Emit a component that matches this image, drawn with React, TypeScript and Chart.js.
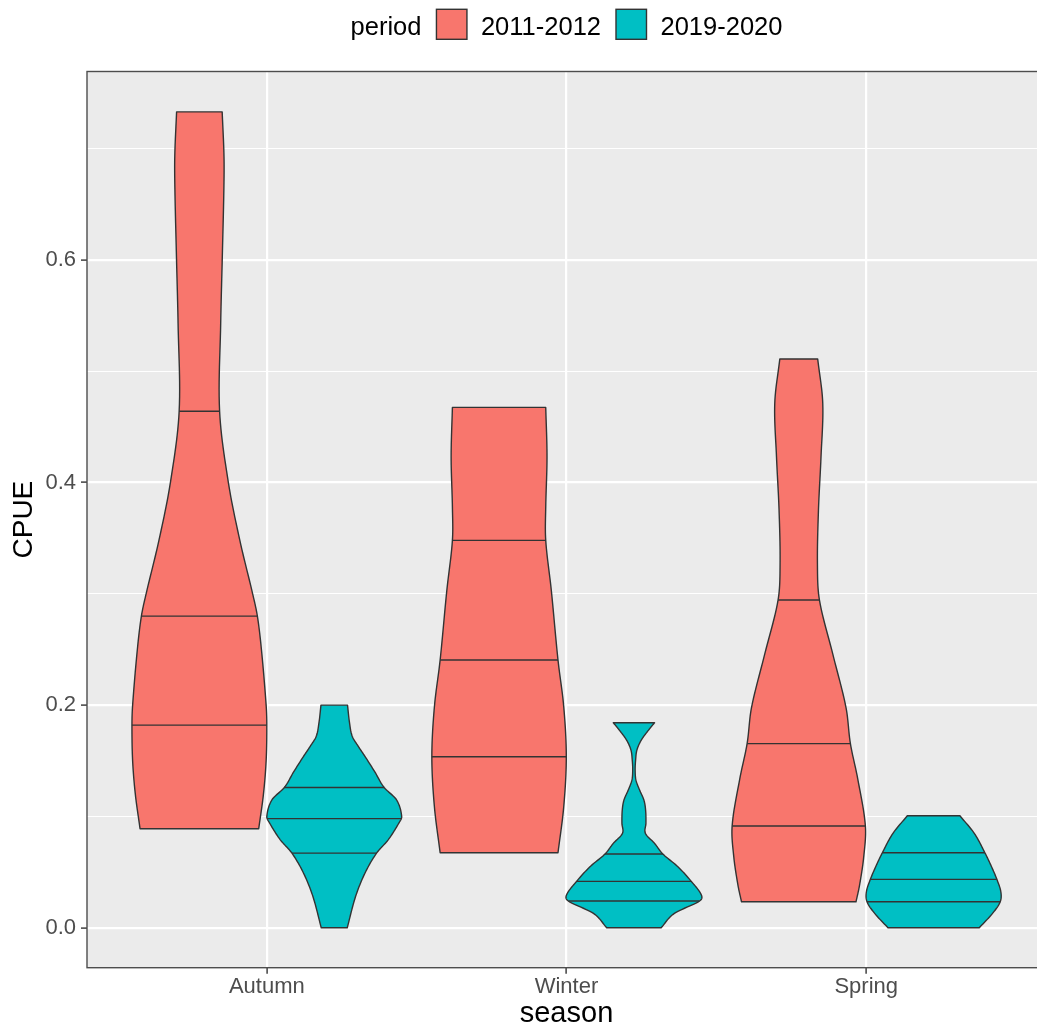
import React, { useEffect, useRef } from 'react';
import { Chart, registerables } from 'chart.js';

Chart.register(...registerables);

// ---------- data ----------
const categories = ['Autumn', 'Winter', 'Spring'];
const periods = ['2011-2012', '2019-2020'];
const periodColors = ['#F8766D', '#00BFC4'];
const yTickValues = [0, 0.1, 0.2, 0.3, 0.4, 0.5, 0.6, 0.7];

// density profiles: CPUE levels and relative violin width (1 = full width)
const autumn2011Cpue = [0.089, 0.12, 0.15, 0.182, 0.2, 0.25, 0.28, 0.3, 0.348, 0.4, 0.464, 0.543, 0.603, 0.663, 0.693, 0.733];
const autumn2011Width = [0.88, 0.95, 0.99, 1.0, 0.99, 0.92, 0.86, 0.79, 0.6, 0.43, 0.30, 0.316, 0.34, 0.363, 0.365, 0.338];
const autumn2011Quartiles = [0.182, 0.28, 0.464];

const autumn2019Cpue = [0, 0.028, 0.049, 0.067, 0.079, 0.094, 0.1, 0.115, 0.126, 0.14, 0.154, 0.163, 0.172, 0.184, 0.2];
const autumn2019Width = [0.193, 0.316, 0.455, 0.627, 0.8, 0.958, 1.0, 0.923, 0.74, 0.602, 0.455, 0.356, 0.267, 0.227, 0.197];
const autumn2019Quartiles = [0.067, 0.098, 0.126];

const winter2011Cpue = [0.0674, 0.1087, 0.1536, 0.1986, 0.2405, 0.303, 0.348, 0.378, 0.423, 0.4675];
const winter2011Width = [0.874, 0.959, 0.997, 0.959, 0.874, 0.775, 0.692, 0.692, 0.711, 0.692];
const winter2011Quartiles = [0.1536, 0.2405, 0.348];

const winter2019Cpue = [0, 0.0129, 0.024, 0.0294, 0.0417, 0.0548, 0.0662, 0.0758, 0.0848, 0.0938, 0.1058, 0.1147, 0.1237, 0.1327, 0.1417, 0.1507, 0.1596, 0.1686, 0.1776, 0.1842];
const winter2019Width = [0.404, 0.6, 0.973, 1.0, 0.85, 0.652, 0.43, 0.306, 0.17, 0.178, 0.173, 0.148, 0.084, 0.03, 0.018, 0.025, 0.044, 0.109, 0.217, 0.306];
const winter2019Quartiles = [0.024, 0.0417, 0.0662];

const spring2011Cpue = [0.0233, 0.0377, 0.0634, 0.0914, 0.134, 0.1654, 0.198, 0.246, 0.2944, 0.3265, 0.375, 0.423, 0.471, 0.511];
const spring2011Width = [0.849, 0.9, 0.963, 0.988, 0.874, 0.766, 0.7, 0.504, 0.307, 0.277, 0.292, 0.33, 0.356, 0.281];
const spring2011Quartiles = [0.0914, 0.1654, 0.2944];

const spring2019Cpue = [0, 0.0129, 0.0234, 0.0323, 0.0435, 0.0548, 0.0674, 0.0848, 0.1006];
const spring2019Width = [0.677, 0.874, 0.988, 0.997, 0.938, 0.859, 0.76, 0.603, 0.39];
const spring2019Quartiles = [0.0234, 0.0435, 0.0674];

const violins = [
  { cat: 0, period: 0, cpue: autumn2011Cpue, width: autumn2011Width, q: autumn2011Quartiles },
  { cat: 0, period: 1, cpue: autumn2019Cpue, width: autumn2019Width, q: autumn2019Quartiles },
  { cat: 1, period: 0, cpue: winter2011Cpue, width: winter2011Width, q: winter2011Quartiles },
  { cat: 1, period: 1, cpue: winter2019Cpue, width: winter2019Width, q: winter2019Quartiles },
  { cat: 2, period: 0, cpue: spring2011Cpue, width: spring2011Width, q: spring2011Quartiles },
  { cat: 2, period: 1, cpue: spring2019Cpue, width: spring2019Width, q: spring2019Quartiles },
];

// ---------- layout constants ----------
const CANVAS_W = 1060;
const CANVAS_H = 1026;
const PANEL_LEFT = 87;
const PANEL_TOP = 71.5;
const PANEL_BOTTOM = 967.7;
const PANEL_RIGHT = 1046;
const FONT = '"Liberation Sans", Arial, Helvetica, sans-serif';
const OUTLINE = '#333333';
const DODGE = 0.225; // half of dodge width
const HALF_W = 0.225; // max half width of a violin in x units

function widthAt(ys: number[], ws: number[], v: number): number {
  const n = ys.length;
  if (v <= ys[0]) return ws[0];
  if (v >= ys[n - 1]) return ws[n - 1];
  let i = 0;
  while (i < n - 2 && v > ys[i + 1]) i++;
  const slope = (k: number) => {
    if (k === 0) return (ws[1] - ws[0]) / (ys[1] - ys[0]);
    if (k === n - 1) return (ws[n - 1] - ws[n - 2]) / (ys[n - 1] - ys[n - 2]);
    return (ws[k + 1] - ws[k - 1]) / (ys[k + 1] - ys[k - 1]);
  };
  const h = ys[i + 1] - ys[i];
  const t = (v - ys[i]) / h;
  const m0 = slope(i) * h;
  const m1 = slope(i + 1) * h;
  const t2 = t * t, t3 = t2 * t;
  const w = (2 * t3 - 3 * t2 + 1) * ws[i] + (t3 - 2 * t2 + t) * m0 + (-2 * t3 + 3 * t2) * ws[i + 1] + (t3 - t2) * m1;
  return Math.max(0.004, w);
}

const panelPlugin = {
  id: 'panelBg',
  beforeDraw(chart: any) {
    const { ctx, chartArea } = chart;
    ctx.save();
    ctx.fillStyle = '#EBEBEB';
    ctx.fillRect(chartArea.left, chartArea.top, chartArea.right - chartArea.left, chartArea.bottom - chartArea.top);
    ctx.restore();
  },
};

const violinPlugin = {
  id: 'violins',
  afterDatasetsDraw(chart: any) {
    const { ctx, scales } = chart;
    const xs = scales.x, ys = scales.y;
    ctx.save();
    ctx.lineJoin = 'round';
    for (const vio of violins) {
      const center = vio.cat + 1 + (vio.period === 0 ? -DODGE : DODGE);
      const samples: number[] = [];
      for (let i = 0; i < vio.cpue.length - 1; i++) {
        for (let s = 0; s < 12; s++) samples.push(vio.cpue[i] + (vio.cpue[i + 1] - vio.cpue[i]) * (s / 12));
      }
      samples.push(vio.cpue[vio.cpue.length - 1]);
      ctx.beginPath();
      samples.forEach((v, k) => {
        const w = widthAt(vio.cpue, vio.width, v) * HALF_W;
        const px = xs.getPixelForValue(center + w);
        const py = ys.getPixelForValue(v);
        if (k === 0) ctx.moveTo(px, py); else ctx.lineTo(px, py);
      });
      for (let k = samples.length - 1; k >= 0; k--) {
        const v = samples[k];
        const w = widthAt(vio.cpue, vio.width, v) * HALF_W;
        ctx.lineTo(xs.getPixelForValue(center - w), ys.getPixelForValue(v));
      }
      ctx.closePath();
      ctx.fillStyle = periodColors[vio.period];
      ctx.fill();
      ctx.strokeStyle = OUTLINE;
      ctx.lineWidth = 1.4;
      ctx.stroke();
      for (const q of vio.q) {
        const w = widthAt(vio.cpue, vio.width, q) * HALF_W;
        const py = ys.getPixelForValue(q);
        ctx.beginPath();
        ctx.moveTo(xs.getPixelForValue(center - w), py);
        ctx.lineTo(xs.getPixelForValue(center + w), py);
        ctx.stroke();
      }
    }
    ctx.restore();
  },
  afterDraw(chart: any) {
    const { ctx, chartArea } = chart;
    ctx.save();
    // panel border
    ctx.strokeStyle = '#4D4D4D';
    ctx.lineWidth = 1.4;
    ctx.strokeRect(chartArea.left, chartArea.top, chartArea.right - chartArea.left, chartArea.bottom - chartArea.top);
    // legend
    ctx.font = `25.5px ${FONT}`;
    ctx.textBaseline = 'alphabetic';
    ctx.fillStyle = '#000000';
    const title = 'period';
    const keySize = 30.5;
    const gapTitle = 15, gapKeyText = 14, gapItem = 15;
    const titleW = ctx.measureText(title).width;
    const itemWs = periods.map((p) => ctx.measureText(p).width);
    let total = titleW;
    itemWs.forEach((w) => { total += gapTitle + keySize + gapKeyText + w; });
    const cx = (chartArea.left + chartArea.right) / 2;
    let x = cx - total / 2;
    const baseline = 35;
    ctx.fillText(title, x, baseline);
    x += titleW;
    periods.forEach((p, i) => {
      x += i === 0 ? gapTitle : gapItem;
      ctx.fillStyle = periodColors[i];
      ctx.fillRect(x, 9.3, keySize, 30);
      ctx.strokeStyle = OUTLINE;
      ctx.lineWidth = 1.4;
      ctx.strokeRect(x, 9.3, keySize, 30);
      x += keySize + gapKeyText;
      ctx.fillStyle = '#000000';
      ctx.fillText(p, x, baseline);
      x += itemWs[i];
    });
    ctx.restore();
  },
};

const isMajor = (v: number) => Math.round(v * 10) % 2 === 0;

export default function App() {
  const ref = useRef<HTMLCanvasElement | null>(null);
  useEffect(() => {
    if (!ref.current) return;
    const chart = new Chart(ref.current, {
      type: 'scatter',
      data: {
        datasets: periods.map((p, i) => ({ label: p, data: [], backgroundColor: periodColors[i] })),
      },
      options: {
        animation: false,
        responsive: false,
        devicePixelRatio: 1,
        layout: { padding: { left: 0, top: PANEL_TOP, right: CANVAS_W - PANEL_RIGHT, bottom: 0 } },
        plugins: { legend: { display: false }, tooltip: { enabled: false }, title: { display: false } },
        scales: {
          x: {
            type: 'linear',
            min: 0.4,
            max: 3.6,
            afterBuildTicks: (s: any) => { s.ticks = categories.map((_, i) => ({ value: i + 1 })); },
            afterFit: (s: any) => { s.height = CANVAS_H - PANEL_BOTTOM; },
            border: { display: false },
            grid: { color: '#FFFFFF', lineWidth: 2.2, drawTicks: true, tickLength: 6, tickColor: OUTLINE, tickWidth: 1.4 },
            ticks: {
              callback: (v: any) => categories[Math.round(Number(v)) - 1],
              color: '#4D4D4D',
              font: { family: FONT, size: 22 },
              padding: 0,
              maxRotation: 0,
              autoSkip: false,
            },
            title: { display: true, text: 'season', color: '#000000', font: { family: FONT, size: 29, lineHeight: 0.8 }, padding: { top: 0, bottom: 0 } },
          },
          y: {
            type: 'linear',
            min: -0.0359,
            max: 0.7693,
            afterBuildTicks: (s: any) => { s.ticks = yTickValues.map((v) => ({ value: v })); },
            afterFit: (s: any) => { s.width = PANEL_LEFT; },
            border: { display: false },
            grid: {
              color: '#FFFFFF',
              lineWidth: (c: any) => (c.tick && isMajor(c.tick.value) ? 2.2 : 1.1),
              drawTicks: true,
              tickLength: 6,
              tickColor: (c: any) => (c.tick && isMajor(c.tick.value) ? OUTLINE : 'rgba(0,0,0,0)'),
              tickWidth: 1.4,
            },
            ticks: {
              callback: (v: any) => (isMajor(Number(v)) ? Number(v).toFixed(1) : ''),
              color: '#4D4D4D',
              font: { family: FONT, size: 22 },
              padding: 5,
              autoSkip: false,
            },
            title: { display: true, text: 'CPUE', color: '#000000', font: { family: FONT, size: 28, lineHeight: 1 }, padding: { top: 10, bottom: 0 } },
          },
        },
      },
      plugins: [panelPlugin, violinPlugin],
    } as any);
    return () => chart.destroy();
  }, []);
  return (
    <div style={{ position: 'absolute', left: 0, top: 0, width: 1037, height: 1026, overflow: 'hidden', background: '#FFFFFF' }}>
      <canvas ref={ref} width={CANVAS_W} height={CANVAS_H} style={{ display: 'block', width: CANVAS_W, height: CANVAS_H }} />
    </div>
  );
}
